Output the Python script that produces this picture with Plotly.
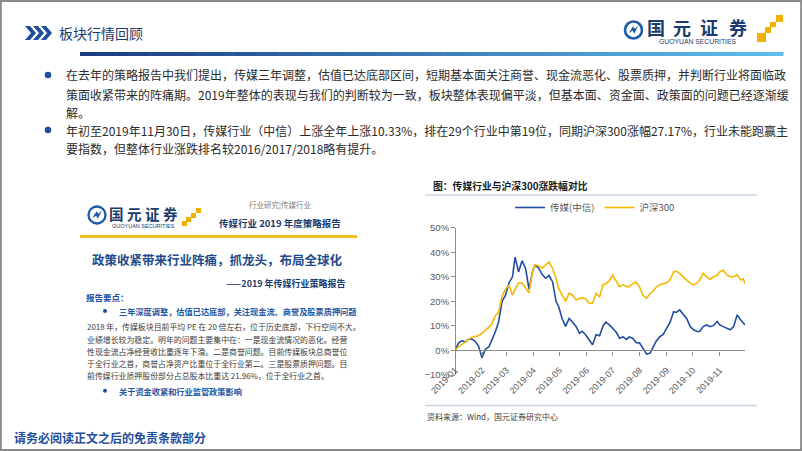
import plotly.graph_objects as go

W, H = 802, 451

# ---------------- data ----------------
dates = [
    "2019-01-01", "2019-01-05", "2019-01-09", "2019-01-13", "2019-01-16", "2019-01-20", "2019-01-24", "2019-01-28",
    "2019-02-01", "2019-02-05", "2019-02-09", "2019-02-12", "2019-02-16", "2019-02-20", "2019-02-24", "2019-02-28",
    "2019-03-04", "2019-03-08", "2019-03-11", "2019-03-15", "2019-03-19", "2019-03-23", "2019-03-27", "2019-03-31",
    "2019-04-03", "2019-04-07", "2019-04-11", "2019-04-15", "2019-04-19", "2019-04-23", "2019-04-27", "2019-04-30",
    "2019-05-04", "2019-05-08", "2019-05-12", "2019-05-16", "2019-05-20", "2019-05-24", "2019-05-27", "2019-05-31",
    "2019-06-04", "2019-06-08", "2019-06-12", "2019-06-16", "2019-06-20", "2019-06-23", "2019-06-27", "2019-07-01",
    "2019-07-05", "2019-07-09", "2019-07-13", "2019-07-17", "2019-07-20", "2019-07-24", "2019-07-28", "2019-08-01",
    "2019-08-05", "2019-08-09", "2019-08-13", "2019-08-16", "2019-08-20", "2019-08-24", "2019-08-28", "2019-09-01",
    "2019-09-05", "2019-09-09", "2019-09-12", "2019-09-16", "2019-09-20", "2019-09-24", "2019-09-28", "2019-10-02",
    "2019-10-06", "2019-10-09", "2019-10-13", "2019-10-17", "2019-10-21", "2019-10-25", "2019-10-29", "2019-11-01",
    "2019-11-05", "2019-11-09", "2019-11-13", "2019-11-17", "2019-11-21", "2019-11-25", "2019-11-28", "2019-11-30",
]
media_citic = [
    0, 3.0, 4.0, 3.4, 4.5, 4.7, 3.8, 1.8, -3.0, 0.5,
    1.5, 3.8, 7.3, 11.5, 20, 22.5, 27.5, 30, 38, 32,
    36.5, 33.5, 25, 32, 34.8, 33.5, 31, 29.4, 30.5, 28,
    20, 17.9, 13, 9.8, 13, 11.5, 9.8, 7, 7.8, 6.4,
    4.3, 2.3, 6.4, 6, 10, 11.5, 10.5, 8.8, 7.5, 5,
    5.5, 4.5, 5.5, 5, 3.2, 3, 1.0, -1.5, -1.1, 1,
    3.8, 5.5, 6.5, 9, 11.5, 15.8, 15.5, 16.5, 14.5, 13,
    9.7, 8.4, 7.7, 7.7, 9.7, 10.4, 9.7, 10.2, 11.8, 10.4,
    9.7, 9, 8.4, 9.7, 14.5, 12.5, 11, 10.33,
]
hs300 = [
    0, 1.5, 2.5, 3.5, 4.6, 5.3, 5.7, 6, 7, 8.3,
    9.3, 10.5, 14, 15.5, 22, 25, 26.5, 22.5, 25, 27.5,
    27.5, 25.3, 23.5, 32, 34.8, 34.5, 33.5, 34.8, 36, 33.5,
    29.4, 25.3, 22.6, 20, 23.3, 22.6, 20.6, 21.3, 21.5, 21,
    19.2, 19.2, 23.3, 21.8, 26.8, 27.2, 28.2, 30.6, 28, 26,
    26.8, 26, 26, 27.2, 27.8, 25.8, 22.4, 21.3, 23.2, 24,
    25.8, 26.7, 27.2, 27.6, 28.8, 32, 32.3, 31.4, 30, 28.7,
    27.4, 26.7, 27.4, 28.7, 31.4, 30, 29, 30, 30.5, 32,
    32.8, 30.8, 30, 30, 30.8, 28.7, 29.2, 27.17,
]
series_names = ["传媒(中信)", "沪深300"]
y_min, y_max, y_step = -10, 50, 10

title_text = "板块行情回顾"
bullet_lines_1 = [
    "在去年的策略报告中我们提出，传媒三年调整，估值已达底部区间，短期基本面关注商誉、现金流恶化、股票质押，并判断行业将面临政",
    "策面收紧带来的阵痛期。2019年整体的表现与我们的判断较为一致，板块整体表现偏平淡，但基本面、资金面、政策面的问题已经逐渐缓",
    "解。",
]
bullet_lines_2 = [
    "年初至2019年11月30日，传媒行业（中信）上涨全年上涨10.33%，排在29个行业中第19位，同期沪深300涨幅27.17%，行业未能跑赢主",
    "要指数，但整体行业涨跌排名较2016/2017/2018略有提升。",
]
report_para = [
    "2018 年，传媒板块目前平均 PE 在 20 倍左右，位于历史底部，下行空间不大。",
    "业绩增长较为稳定。明年的问题主要集中在：一是现金流情况的恶化。经营",
    "性现金流占净经营收比重逐年下滑。二是商誉问题。目前传媒板块总商誉位",
    "于全行业之首，商誉占净资产比重位于全行业第二。三是股票质押问题。目",
    "前传媒行业质押股份部分占总股本比重达 21.96%，位于全行业之首。",
]

# ---------------- styles ----------------
CJK = "Noto Sans CJK SC"
NAVY = "#1b3a6e"
BLUE = "#1f4e9c"
LINE_BLUE = "#1f4e9e"
LINE_YEL = "#f5b800"
GRAY = "#595959"


def px(x):
    return x / W


def py(y):
    return 1 - y / H


fig = go.Figure()
fig.add_trace(go.Scatter(x=dates, y=media_citic, mode="lines", name=series_names[0],
                         line=dict(color=LINE_BLUE, width=1.6)))
fig.add_trace(go.Scatter(x=dates, y=hs300, mode="lines", name=series_names[1],
                         line=dict(color=LINE_YEL, width=1.6)))

# plot area (pixels)
L, R, T, B = 455, 745, 227.7, 375.0
dom_y = [py(B), py(T)]
zero_pos = dom_y[0] + (0 - y_min) / (y_max - y_min) * (dom_y[1] - dom_y[0])

fig.update_layout(
    width=W, height=H, margin=dict(l=0, r=0, t=0, b=0, autoexpand=False),
    paper_bgcolor="white", plot_bgcolor="white",
    font=dict(family=CJK, color=GRAY, size=9),
    showlegend=True,
    legend=dict(orientation="h", x=px(510), y=py(193), xanchor="left", yanchor="top",
                font=dict(size=9.5, color=GRAY, family=CJK), bgcolor="rgba(0,0,0,0)",
                itemwidth=30, tracegroupgap=0),
    xaxis=dict(domain=[px(L), px(R)], type="date", range=["2019-01-01", "2019-11-30"],
               anchor="free", position=zero_pos, automargin=False,
               tickmode="linear", tick0="2019-01-01", dtick="M1", tickformat="%Y-%m",
               tickangle=-45, ticks="outside", ticklen=4, tickcolor="#8c8c8c",
               showline=True, linecolor="#8c8c8c", linewidth=1.2, showgrid=False,
               zeroline=False, ticklabelstandoff=6,
               tickfont=dict(size=9, color=GRAY, family="Liberation Sans")),
    yaxis=dict(domain=dom_y, range=[y_min, y_max], dtick=y_step, ticksuffix="%",
               ticks="outside", ticklen=4, tickcolor="#8c8c8c", showline=True,
               linecolor="#8c8c8c", linewidth=1, showgrid=False, zeroline=False,
               anchor="free", position=px(L), automargin=False,
               tickfont=dict(size=9.5, color=GRAY, family="Liberation Sans")),
)

shapes = []
ann = []


def text(x, y, s, size, color, bold=False, anchor="left", family=CJK, yanchor="middle"):
    ann.append(dict(x=px(x), y=py(y), xref="paper", yref="paper", text=(f"<b>{s}</b>" if bold else s),
                    showarrow=False, xanchor=anchor, yanchor=yanchor,
                    font=dict(size=size, color=color, family=family)))


def rect(x0, y0, x1, y1, fill, line=None, lw=0):
    shapes.append(dict(type="rect", xref="paper", yref="paper", x0=px(x0), x1=px(x1), y0=py(y0), y1=py(y1),
                       fillcolor=fill, line=dict(color=line or fill, width=lw)))


def circle(cx, cy, r, fill, line=None, lw=0):
    shapes.append(dict(type="circle", xref="paper", yref="paper", x0=px(cx - r), x1=px(cx + r),
                       y0=py(cy + r), y1=py(cy - r), fillcolor=fill,
                       line=dict(color=line or fill, width=lw)))


def path(points, fill, line=None, lw=0):
    d = "M " + " L ".join(f"{px(a):.5f},{py(b):.5f}" for a, b in points) + " Z"
    shapes.append(dict(type="path", xref="paper", yref="paper", path=d, fillcolor=fill,
                       line=dict(color=line or fill, width=lw)))


def hline(x0, x1, y, color, w):
    shapes.append(dict(type="line", xref="paper", yref="paper", x0=px(x0), x1=px(x1), y0=py(y), y1=py(y),
                       line=dict(color=color, width=w)))


def logo(cx, cy, r, scale):
    circle(cx, cy, r, "white", "#1f5aa6", 2.6 * scale)
    path([(cx - 0.55 * r, cy + 0.35 * r), (cx - 0.05 * r, cy - 0.45 * r), (cx + 0.15 * r, cy - 0.15 * r),
          (cx + 0.55 * r, cy - 0.5 * r), (cx + 0.1 * r, cy + 0.45 * r), (cx - 0.1 * r, cy + 0.1 * r)],
         "#1f5aa6")


# slide border
shapes.append(dict(type="rect", xref="paper", yref="paper", x0=0.001, x1=0.999, y0=0.002, y1=0.998,
                   fillcolor="rgba(0,0,0,0)", line=dict(color="#8a8a8a", width=2)))

# header chevrons
for o in (0, 8, 16):
    path([(25 + o, 26), (30 + o, 26), (36 + o, 33), (30 + o, 40), (25 + o, 40), (31 + o, 33)], BLUE)
text(57, 33, title_text, 14, NAVY)

# top-right logo
logo(633.5, 30, 8.5, 1)
for ch, cx in zip("国元证券", (655.5, 681.5, 709, 737.5)):
    text(cx, 27, ch, 18, NAVY, bold=True, anchor="center")
text(698, 41.5, "GUOYUAN SECURITIES", 6.8, NAVY, anchor="center", family="Liberation Sans")
for (a, b, c, d) in [(776, 15, 783, 22), (770, 22, 776, 27), (765, 27, 771, 33), (757, 33, 766, 42)]:
    rect(a, b, c, d, "#f2b000")

# gradient rule under header
n = 60
x0g, x1g = 80, 783
c0, c1 = (27, 60, 130), (95, 190, 235)
for i in range(n):
    t = i / (n - 1)
    col = "rgb({},{},{})".format(*[int(c0[k] + (c1[k] - c0[k]) * t) for k in range(3)])
    rect(x0g + (x1g - x0g) * i / n, 52, x0g + (x1g - x0g) * (i + 1) / n + 0.5, 56, col)

# bullet paragraphs
circle(48, 75, 3.3, BLUE)
for i, s in enumerate(bullet_lines_1):
    text(64, 75 + i * 19, s, 12, "#2b2b2b")
circle(48, 130, 3.3, BLUE)
for i, s in enumerate(bullet_lines_2):
    text(64, 130 + i * 19, s, 12, "#2b2b2b")

# report cover thumbnail
logo(97, 215, 8.5, 0.9)
for ch, cx in zip("国元证券", (116, 134, 152, 170)):
    text(cx, 213, ch, 14.5, NAVY, bold=True, anchor="center")
text(143, 225.5, "GUOYUAN SECURITIES", 5.5, NAVY, anchor="center", family="Liberation Sans")
for (a, b, c, d) in [(196, 208, 201, 213), (191, 213, 196, 218), (186, 217, 191, 222), (182, 221, 187, 226)]:
    rect(a, b, c, d, "#f2b000")
text(280, 204, "行业研究|传媒行业", 7.5, "#7f7f7f", anchor="center")
text(280, 223, "传媒行业 2019 年度策略报告", 9.5, NAVY, bold=True, anchor="center")
hline(80, 357, 236.5, "#f3b300", 2.5)
text(217, 259, "政策收紧带来行业阵痛，抓龙头，布局全球化", 12.5, "#1f4a8a", bold=True, anchor="center")
text(348, 283, "——2019 年传媒行业策略报告", 9, NAVY, bold=True, anchor="right")
text(84, 297, "报告要点：", 8.5, BLUE, bold=True)
circle(105, 311, 2, BLUE)
text(117, 311, "三年深度调整，估值已达底部，关注现金流、商誉及股票质押问题", 8.2, "#2456a6", bold=True)
for i, s in enumerate(report_para):
    text(85, 326.7 + i * 12.3, s, 7.9, "#3a3a3a")
circle(105, 390.7, 2, BLUE)
text(117, 390.7, "关于资金收紧和行业监管政策影响", 8.2, "#2456a6", bold=True)

# chart frame texts
text(431, 186, "图：传媒行业与沪深300涨跌幅对比", 9.8, "#1a1a1a", bold=True)
hline(425, 757, 195, "#c8d4e6", 1.5)
hline(425, 757, 405.5, "#c8d4e6", 1.5)
text(425, 416, "资料来源：Wind，国元证券研究中心", 8, "#404040")

# footer
text(12, 437, "请务必阅读正文之后的免责条款部分", 12, BLUE, bold=True)

fig.update_layout(shapes=shapes, annotations=ann)
fig.write_html("out.html", post_script="document.body.style.margin='0';",
               config={"displayModeBar": False})
